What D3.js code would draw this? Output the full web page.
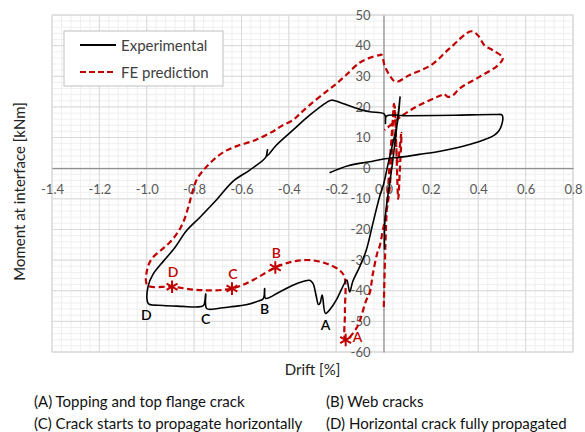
<!DOCTYPE html>
<html>
<head>
<meta charset="utf-8">
<script src="https://cdn.jsdelivr.net/npm/d3@7"></script>
<style>
  html, body { margin: 0; padding: 0; background: #fff; }
  svg { display: block; font-family: Lato, "Open Sans", sans-serif; }
</style>
</head>
<body>
<svg id="chart" width="585" height="432"></svg>
<script>
// Axis ticks
const xTickValues = [-1.4, -1.2, -1.0, -0.8, -0.6, -0.4, -0.2, 0.0, 0.2, 0.4, 0.6, 0.8];
const yTickValues = [-60, -50, -40, -30, -20, -10, 0, 10, 20, 30, 40, 50];

// Experimental hysteresis: [drift %, moment kNm]
const experimental = [
  [-0.228,-1.5],[-0.15,0.8],[-0.06,2.1],[0.0,3.0],[0.081,3.7],[0.15,4.5],[0.222,5.3],[0.30,6.5],
  [0.363,7.7],[0.433,9.5],[0.468,10.8],[0.488,12.3],[0.499,14.2],[0.504,16.2],[0.500,17.4],[0.47,17.5],
  [0.30,17.3],[0.10,17.1],[0.012,17.0],[0.008,14.6],[0.004,17.6],
  [-0.059,18.4],[-0.101,19.2],[-0.172,21.1],[-0.205,22.0],[-0.221,22.2],[-0.24,21.5],[-0.312,17.3],
  [-0.383,12.4],[-0.453,7.5],[-0.493,4.0],[-0.490,6.0],[-0.497,3.6],
  [-0.565,-0.6],[-0.636,-4.3],[-0.706,-10.4],[-0.775,-16],[-0.833,-20.5],[-0.88,-25.8],[-0.931,-30.5],
  [-0.973,-34.6],[-0.994,-38.5],[-0.997,-43.6],[-0.99,-44.4],[-0.931,-44.8],[-0.85,-45.1],[-0.79,-45.3],
  [-0.76,-44.8],[-0.751,-41.0],[-0.747,-45.8],[-0.70,-45.8],[-0.65,-45.3],[-0.58,-44.6],[-0.537,-43.6],
  [-0.508,-42.6],[-0.502,-39.3],[-0.498,-42.5],
  [-0.439,-40.4],[-0.383,-38.2],[-0.340,-37.0],[-0.312,-36.6],[-0.298,-37.6],[-0.285,-41.5],[-0.275,-44.5],
  [-0.268,-44.0],[-0.259,-41.4],[-0.245,-47.4],[-0.22,-45.5],[-0.2,-43.1],[-0.165,-37.6],[-0.155,-36.5],
  [-0.143,-40.4],[-0.13,-37],[-0.101,-32.2],[-0.073,-26.8],[-0.045,-18],[-0.017,-9.4],[0.001,-5],
  [0.018,1],[0.039,8.1],[0.058,14.6],[0.07,23.3],
  [0.04,3],[0.006,-17],[0.004,-26.5]
];

// FE prediction: [drift %, moment kNm]
const fePrediction = [
  [0.001,-45.3],[0.006,-30],[0.011,-18],[0.018,-8],[0.03,6],[0.046,20.5],[0.055,4],[0.062,-10],
  [0.068,-2],[0.075,11.5],[0.06,2],[0.044,21],[0.035,5],[0.025,-7.2],[0.011,-14.8],[-0.003,-20.2],
  [-0.017,-25.7],[-0.024,-27],[-0.045,-34.4],[-0.059,-40.9],[-0.073,-43.1],[-0.101,-50],[-0.115,-52.3],
  [-0.16,-56.1],[-0.163,-47],[-0.165,-35.5],[-0.186,-33.3],[-0.242,-31.1],[-0.312,-30],[-0.383,-30.5],
  [-0.457,-32.4],[-0.551,-36.5],[-0.64,-39.3],[-0.776,-39.8],[-0.893,-38.7],[-0.997,-38.2],[-0.997,-32.7],
  [-0.978,-29.5],[-0.94,-26.8],[-0.9,-24],[-0.865,-20.5],[-0.84,-16.5],[-0.822,-12],[-0.806,-7.5],
  [-0.788,-3.6],[-0.762,-0.8],
  [-0.72,2.6],[-0.67,5.5],[-0.62,7.2],[-0.54,9.2],[-0.467,12],[-0.43,13.8],[-0.383,15.7],[-0.354,17.7],
  [-0.312,20.6],[-0.242,25],[-0.2,27.5],[-0.157,30.5],[-0.1,34.5],[-0.059,36],[-0.017,36.9],[-0.008,37],
  [0.004,33.6],[0.025,30.4],[0.051,28.2],[0.11,30.4],[0.2,33.6],[0.278,39],[0.37,44.7],[0.398,43.4],
  [0.426,40.1],[0.461,38.5],[0.504,36],[0.483,33.6],[0.405,29.8],[0.321,26],[0.293,23.8],[0.271,23.3],
  [0.255,24.2],[0.243,23.8],[0.152,20.6],[0.081,17.3],[0.004,12.4]
];

// Damage stages
const stageLabels = ["A", "B", "C", "D"];
const feStageDrift = [-0.16, -0.457, -0.64, -0.893];
const feStageMoment = [-56.1, -32.4, -39.3, -38.7];
const expStageDrift = [-0.245, -0.502, -0.751, -0.997];
const expStageMoment = [-47.4, -42.5, -45.8, -44.4];

const legendLabels = ["Experimental", "FE prediction"];
const captionsLeft = ["(A) Topping and top flange crack", "(C) Crack starts to propagate horizontally"];
const captionsRight = ["(B) Web cracks", "(D) Horizontal crack fully propagated"];

const RED = "#c00000";
const svg = d3.select("#chart");
const x = d3.scaleLinear().domain([-1.4, 0.8]).range([52, 573]);
const y = d3.scaleLinear().domain([-60, 50]).range([352, 15]);

// Gridlines
const minorX = d3.range(0, 56).map(i => -1.4 + i * 0.04);
const minorY = d3.range(0, 56).map(i => -60 + i * 2);
const grid = svg.append("g");
grid.selectAll(".mx").data(minorX).join("line")
  .attr("x1", d => x(d)).attr("x2", d => x(d)).attr("y1", y(50)).attr("y2", y(-60))
  .attr("stroke", "#efefef").attr("stroke-width", 1);
grid.selectAll(".my").data(minorY).join("line")
  .attr("x1", x(-1.4)).attr("x2", x(0.8)).attr("y1", d => y(d)).attr("y2", d => y(d))
  .attr("stroke", "#efefef").attr("stroke-width", 1);
grid.selectAll(".Mx").data(xTickValues).join("line")
  .attr("x1", d => x(d)).attr("x2", d => x(d)).attr("y1", y(50)).attr("y2", y(-60))
  .attr("stroke", "#d9d9d9").attr("stroke-width", 1);
grid.selectAll(".My").data(yTickValues).join("line")
  .attr("x1", x(-1.4)).attr("x2", x(0.8)).attr("y1", d => y(d)).attr("y2", d => y(d))
  .attr("stroke", "#d9d9d9").attr("stroke-width", 1);
grid.append("rect")
  .attr("x", x(-1.4)).attr("y", y(50)).attr("width", x(0.8) - x(-1.4)).attr("height", y(-60) - y(50))
  .attr("fill", "none").attr("stroke", "#d9d9d9");

// Axes crossing at the origin
const xAxis = svg.append("g").attr("transform", `translate(0,${y(0)})`)
  .call(d3.axisBottom(x).tickValues(xTickValues).tickFormat(d => d.toFixed(1)).tickSize(0).tickSizeOuter(0).tickPadding(17));
const yAxis = svg.append("g").attr("transform", `translate(${x(0)},0)`)
  .call(d3.axisLeft(y).tickValues(yTickValues).tickFormat(d => String(d)).tickSize(0).tickSizeOuter(0).tickPadding(13));
[xAxis, yAxis].forEach(g => {
  g.select(".domain").attr("stroke", "#8f8f8f").attr("stroke-width", 1.2);
  g.selectAll("text").attr("fill", "#595959").style("font-size", "13px").style("font-family", "Lato, sans-serif");
});

// Curves
const line = d3.line().x(d => x(d[0])).y(d => y(d[1])).curve(d3.curveCatmullRom.alpha(0.5));
svg.append("path").datum(fePrediction).attr("d", line)
  .attr("fill", "none").attr("stroke", RED).attr("stroke-width", 2.2).attr("stroke-dasharray", "6,3.5");
svg.append("path").datum(experimental).attr("d", line)
  .attr("fill", "none").attr("stroke", "#000").attr("stroke-width", 1.6).attr("stroke-linejoin", "round");

// Six-armed star marker
const asterisk = {
  draw(ctx, size) {
    const r = Math.sqrt(size) * 0.6;
    for (let k = 0; k < 3; k++) {
      const a = Math.PI / 2 + k * Math.PI / 3;
      ctx.moveTo(r * Math.cos(a), r * Math.sin(a));
      ctx.lineTo(-r * Math.cos(a), -r * Math.sin(a));
    }
  }
};
const stars = svg.append("g");
stars.selectAll("path").data(stageLabels).join("path")
  .attr("transform", (d, i) => `translate(${x(feStageDrift[i])},${y(feStageMoment[i])})`)
  .attr("d", d3.symbol().type(asterisk).size(110))
  .attr("stroke", RED).attr("stroke-width", 2).attr("fill", "none");
stars.selectAll("text").data(stageLabels).join("text")
  .attr("x", (d, i) => x(feStageDrift[i]) + (d === "A" ? 7 : 1))
  .attr("y", (d, i) => y(feStageMoment[i]) + (d === "A" ? -4 : -15))
  .attr("text-anchor", d => d === "A" ? "start" : "middle")
  .attr("dominant-baseline", "central")
  .attr("fill", RED).style("font-size", "14px").style("font-weight", "600").text(d => d);

svg.append("g").selectAll("text").data(stageLabels).join("text")
  .attr("x", (d, i) => x(expStageDrift[i]) + (d === "D" ? -1 : 0))
  .attr("y", (d, i) => y(expStageMoment[i]) + (d === "A" ? 11 : 10))
  .attr("text-anchor", "middle").attr("dominant-baseline", "central")
  .attr("fill", "#000").style("font-size", "14px").style("font-weight", "600").text(d => d);

// Legend
const legend = svg.append("g");
legend.append("rect").attr("x", 64).attr("y", 31).attr("width", 159).attr("height", 55)
  .attr("fill", "#fff").attr("stroke", "#bfbfbf");
legendLabels.forEach((lab, i) => {
  const ly = 45 + i * 27;
  legend.append("line").attr("x1", 80).attr("x2", 116).attr("y1", ly).attr("y2", ly)
    .attr("stroke", i === 0 ? "#000" : RED).attr("stroke-width", 2.2)
    .attr("stroke-dasharray", i === 0 ? null : "6,3");
  legend.append("text").attr("x", 121).attr("y", ly).attr("dominant-baseline", "central")
    .attr("fill", "#404040").style("font-size", "15px").text(lab);
});

// Axis titles
svg.append("text").attr("transform", `translate(19,${(y(50) + y(-60)) / 2 + 8}) rotate(-90)`)
  .attr("text-anchor", "middle").attr("dominant-baseline", "central")
  .attr("fill", "#222").style("font-size", "15px").text("Moment at interface [kNm]");
svg.append("text").attr("x", (x(-1.4) + x(0.8)) / 2).attr("y", 369).attr("text-anchor", "middle").attr("dominant-baseline", "central")
  .attr("fill", "#222").style("font-size", "15px").text("Drift [%]");

// Stage captions
captionsLeft.forEach((t, i) => svg.append("text").attr("x", 34).attr("y", 401 + i * 22)
  .attr("dominant-baseline", "central").attr("fill", "#111").style("font-size", "15px").text(t));
captionsRight.forEach((t, i) => svg.append("text").attr("x", 326).attr("y", 401 + i * 22)
  .attr("dominant-baseline", "central").attr("fill", "#111").style("font-size", "15px").text(t));
</script>
</body>
</html>
